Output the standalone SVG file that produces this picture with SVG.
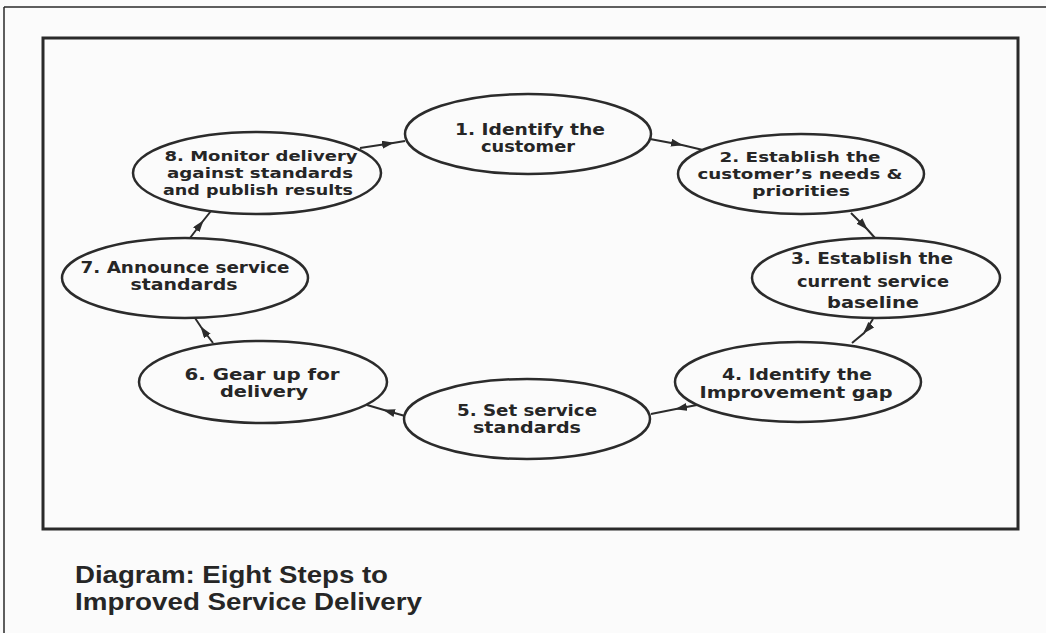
<svg xmlns="http://www.w3.org/2000/svg" width="1046" height="633" viewBox="0 0 1046 633">
<style>
.node ellipse{fill:none;stroke:#2b2b2b;stroke-width:2.5}
.node text{font-family:"DejaVu Sans","Liberation Sans",sans-serif;font-weight:bold;font-size:16px;fill:#262626;text-anchor:middle}
.node text.t3{font-size:14px}
.conn path{fill:none;stroke:#2b2b2b;stroke-width:2}
.cap{font-family:"Liberation Sans",Arial,sans-serif;font-weight:bold;font-size:23px;fill:#262626}
.frame{fill:none;stroke:#2a2a2a}
</style>
<defs>
<marker id="ah" markerUnits="userSpaceOnUse" markerWidth="14" markerHeight="10" refX="11" refY="4" orient="auto">
<path d="M0,0 L12,4 L0,8 Z" fill="#2b2b2b"/>
</marker>
</defs>
<rect width="1046" height="633" fill="#fbfbfb"/>
<g id="page">
<line class="frame" x1="4" y1="7" x2="1046" y2="7" stroke-width="1.5"/>
<line class="frame" x1="4" y1="7" x2="4" y2="633" stroke-width="1.5"/>
<rect class="frame" x="43" y="38" width="975" height="491" stroke-width="3"/>
</g>
<g class="conn" id="connectors">
<path d="M360,148 L393,143 L405,141" marker-mid="url(#ah)"/>
<path d="M650,139 L682,145 L703,150" marker-mid="url(#ah)"/>
<path d="M851,213 L867,229 L875,238" marker-mid="url(#ah)"/>
<path d="M873,319 L864,333 L852,343" marker-mid="url(#ah)"/>
<path d="M697,405 L676,409 L651,414" marker-mid="url(#ah)"/>
<path d="M405,416 L384,410 L367,405" marker-mid="url(#ah)"/>
<path d="M213,343 L201,327 L195,318" marker-mid="url(#ah)"/>
<path d="M190,238 L203,221 L211,211" marker-mid="url(#ah)"/>
</g>
<g class="node" id="n1">
<ellipse cx="528" cy="134" rx="123" ry="40"/>
<text x="530" y="135" textLength="150" lengthAdjust="spacingAndGlyphs">1. Identify the</text>
<text x="528" y="152" textLength="94" lengthAdjust="spacingAndGlyphs">customer</text>
</g>
<g class="node" id="n2">
<ellipse cx="801" cy="174" rx="123" ry="40"/>
<text class="t3" x="800" y="162" textLength="161" lengthAdjust="spacingAndGlyphs">2. Establish the</text>
<text class="t3" x="800" y="179" textLength="205" lengthAdjust="spacingAndGlyphs">customer’s needs &amp;</text>
<text class="t3" x="801" y="196" textLength="98" lengthAdjust="spacingAndGlyphs">priorities</text>
</g>
<g class="node" id="n3">
<ellipse cx="876" cy="278" rx="124" ry="40"/>
<text x="872" y="264" textLength="162" lengthAdjust="spacingAndGlyphs">3. Establish the</text>
<text x="873" y="287" textLength="152" lengthAdjust="spacingAndGlyphs">current service</text>
<text x="873" y="308" textLength="92" lengthAdjust="spacingAndGlyphs">baseline</text>
</g>
<g class="node" id="n4">
<ellipse cx="798" cy="382" rx="123" ry="40"/>
<text x="797" y="380" textLength="150" lengthAdjust="spacingAndGlyphs">4. Identify the</text>
<text x="796" y="398" textLength="193" lengthAdjust="spacingAndGlyphs">Improvement gap</text>
</g>
<g class="node" id="n5">
<ellipse cx="527" cy="419" rx="123" ry="40"/>
<text x="527" y="416" textLength="140" lengthAdjust="spacingAndGlyphs">5. Set service</text>
<text x="527" y="433" textLength="108" lengthAdjust="spacingAndGlyphs">standards</text>
</g>
<g class="node" id="n6">
<ellipse cx="263" cy="382" rx="124" ry="41"/>
<text x="262" y="380" textLength="155" lengthAdjust="spacingAndGlyphs">6. Gear up for</text>
<text x="264" y="397" textLength="88" lengthAdjust="spacingAndGlyphs">delivery</text>
</g>
<g class="node" id="n7">
<ellipse cx="185" cy="278" rx="123" ry="40"/>
<text x="185" y="273" textLength="209" lengthAdjust="spacingAndGlyphs">7. Announce service</text>
<text x="184" y="290" textLength="107" lengthAdjust="spacingAndGlyphs">standards</text>
</g>
<g class="node" id="n8">
<ellipse cx="257" cy="173" rx="124" ry="41"/>
<text class="t3" x="261" y="161" textLength="193" lengthAdjust="spacingAndGlyphs">8. Monitor delivery</text>
<text class="t3" x="260" y="178" textLength="186" lengthAdjust="spacingAndGlyphs">against standards</text>
<text class="t3" x="258" y="195" textLength="190" lengthAdjust="spacingAndGlyphs">and publish results</text>
</g>
<g id="caption">
<text class="cap" x="75" y="583" textLength="313" lengthAdjust="spacingAndGlyphs">Diagram: Eight Steps to</text>
<text class="cap" x="75" y="610" textLength="347" lengthAdjust="spacingAndGlyphs">Improved Service Delivery</text>
</g>
</svg>
